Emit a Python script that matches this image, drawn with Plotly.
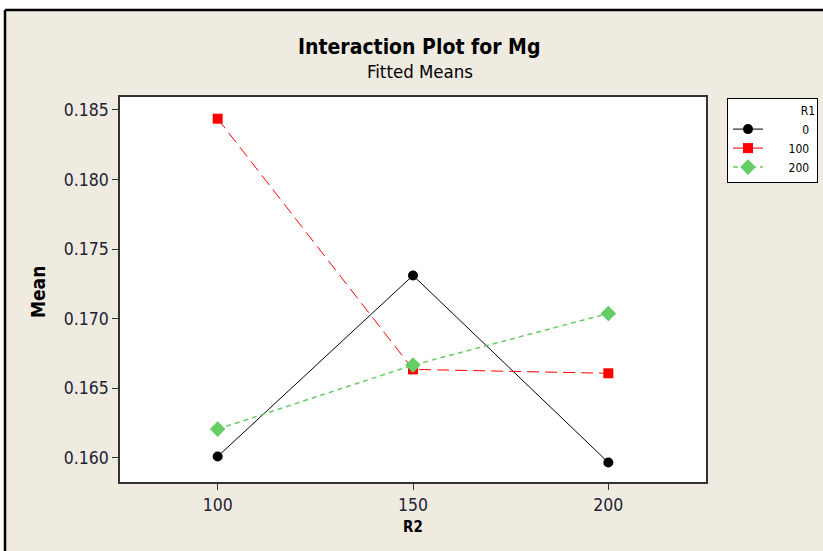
import plotly.graph_objects as go

r2_levels = [100, 150, 200]
r1_labels = ["\u2007\u2007\u2007\u2007\u20070\u2009", "\u2007\u2007\u2007100\u2009", "\u2007\u2007\u2007200\u2009"]
mean_r1_0 = [0.16009, 0.17310, 0.15966]
mean_r1_100 = [0.18436, 0.16635, 0.16607]
mean_r1_200 = [0.16206, 0.16666, 0.17037]
y_ticks = [0.160, 0.165, 0.170, 0.175, 0.180, 0.185]
x_ticks = [100, 150, 200]

FONT = "DejaVu Sans Condensed"
BEIGE = "#EFEBE1"

W, H = 823, 551
L, R, T, B = 120, 706, 97, 482

def px_x(p):
    return (p - L) / (R - L)

def px_y(p):
    return (B - p) / (B - T)

fig = go.Figure()
fig.add_trace(go.Scatter(
    x=r2_levels, y=mean_r1_0, name=r1_labels[0], mode="lines+markers",
    line=dict(color="black", width=1, dash="solid"),
    marker=dict(symbol="circle", size=10, color="black")))
fig.add_trace(go.Scatter(
    x=r2_levels, y=mean_r1_100, name=r1_labels[1], mode="lines+markers",
    line=dict(color="#FF0000", width=1, dash="12px,6px"),
    marker=dict(symbol="square", size=10, color="#FF0000")))
fig.add_trace(go.Scatter(
    x=r2_levels, y=mean_r1_200, name=r1_labels[2], mode="lines+markers",
    line=dict(color="#66CC66", width=1.5, dash="5px,4px"),
    marker=dict(symbol="diamond", size=12, color="#66CC66")))

axis_common = dict(
    showline=True, linecolor="#333333", linewidth=1.5, mirror=True,
    ticks="outside", ticklen=6, tickwidth=1, tickcolor="#333333",
    showgrid=False, zeroline=False,
    tickfont=dict(family=FONT, size=17.5, color="#222233"),
)

fig.update_layout(
    width=W, height=H,
    margin=dict(l=L, r=W - R, t=T, b=H - B, pad=0, autoexpand=False),
    paper_bgcolor=BEIGE, plot_bgcolor="white",
    showlegend=True,
    legend=dict(
        x=px_x(727), y=px_y(98), xanchor="left", yanchor="top",
        bgcolor="white", bordercolor="black", borderwidth=1,
        font=dict(family=FONT, size=12, color="black"),
        title=dict(text="R1", side="top right", font=dict(family=FONT, size=12, color="black")),
        tracegroupgap=0,
    ),
    xaxis=dict(range=[75, 225], tickvals=x_ticks, ticktext=[str(v) for v in x_ticks], **axis_common),
    yaxis=dict(range=[0.15826, 0.18592], tickvals=y_ticks, ticktext=[f"{v:.3f}" for v in y_ticks], **axis_common),
    annotations=[
        dict(text="<b>Interaction Plot for Mg</b>", x=px_x(419), y=px_y(47), xref="paper", yref="paper",
             showarrow=False, xanchor="center", yanchor="middle",
             font=dict(family=FONT, size=21, color="black")),
        dict(text="Fitted Means", x=px_x(420), y=px_y(71), xref="paper", yref="paper",
             showarrow=False, xanchor="center", yanchor="middle",
             font=dict(family=FONT, size=18.5, color="black")),
        dict(text="<b>Mean</b>", x=px_x(38), y=px_y(292), xref="paper", yref="paper",
             showarrow=False, xanchor="center", yanchor="middle", textangle=-90,
             font=dict(family=FONT, size=19, color="black")),
        dict(text="<b>R2</b>", x=px_x(413), y=px_y(527), xref="paper", yref="paper",
             showarrow=False, xanchor="center", yanchor="middle",
             font=dict(family=FONT, size=15, color="black")),
    ],
    shapes=[
        dict(type="rect", xref="paper", yref="paper", x0=px_x(-5), x1=px_x(830), y0=px_y(10), y1=px_y(-5),
             fillcolor="white", line=dict(width=0), layer="above"),
        dict(type="rect", xref="paper", yref="paper", x0=px_x(-5), x1=px_x(5), y0=px_y(560), y1=px_y(-5),
             fillcolor="white", line=dict(width=0), layer="above"),
        dict(type="line", xref="paper", yref="paper", x0=px_x(5), x1=px_x(830), y0=px_y(10), y1=px_y(10),
             line=dict(color="black", width=2.5), layer="above"),
        dict(type="line", xref="paper", yref="paper", x0=px_x(5), x1=px_x(5), y0=px_y(10), y1=px_y(560),
             line=dict(color="black", width=2.5), layer="above"),
    ],
)

fig.write_html("out.html", config={"displayModeBar": False},
               post_script="document.body.style.margin='0';")
